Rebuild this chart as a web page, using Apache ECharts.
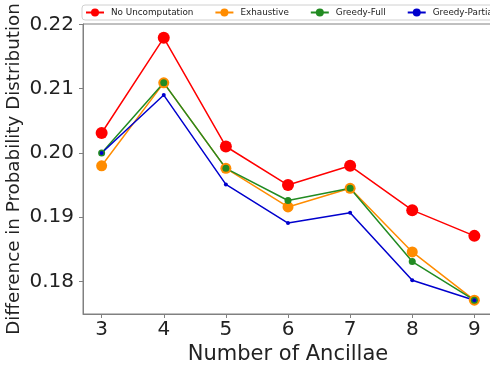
<!DOCTYPE html>
<html>
<head>
<meta charset="utf-8">
<script src="https://cdn.jsdelivr.net/npm/echarts@6/dist/echarts.min.js"></script>
<style>
html,body{margin:0;padding:0;background:#fff;}
#c{width:490px;height:367px;}
</style>
</head>
<body>
<div id="c"></div>
<script>
var ancillae = [3, 4, 5, 6, 7, 8, 9];
var noUncomputation = [0.2031, 0.2179, 0.2010, 0.1950, 0.1980, 0.1911, 0.1871];
var exhaustive      = [0.1980, 0.2109, 0.1976, 0.1916, 0.1945, 0.1846, 0.1771];
var greedyFull      = [0.2000, 0.2109, 0.1976, 0.1926, 0.1945, 0.1831, 0.1771];
var greedyPartial   = [0.2000, 0.2090, 0.1951, 0.1891, 0.1907, 0.1802, 0.1771];
var xTicks = [3, 4, 5, 6, 7, 8, 9];
var yTicks = [0.18, 0.19, 0.20, 0.21, 0.22];
var yTickLabels = ['0.18', '0.19', '0.20', '0.21', '0.22'];

function pairs(ys){ return ancillae.map(function(x,i){ return [x, ys[i]]; }); }

var FONT = 'DejaVu Sans';
var chart = echarts.init(document.getElementById('c'), null, {renderer:'canvas'});
function mk(name, data, color, size){
  return {
    name: name, type: 'line', data: pairs(data),
    symbol: 'circle', symbolSize: size, showSymbol: true,
    lineStyle: {color: color, width: 1.5},
    itemStyle: {color: color},
    emphasis: {disabled: true},
    animation: false
  };
}
chart.setOption({
  animation: false,
  grid: {left: 83, top: 24, right: -3, bottom: 53, show: true, borderColor: '#808080', borderWidth: 1,
         containLabel: false, outerBoundsMode: 'none'},
  legend: {
    left: 82, top: 5, width: 600,
    padding: [3, 4, 3, 3],
    itemGap: 21, itemWidth: 18, itemHeight: 10,
    borderColor: '#d0d0d0', borderWidth: 1, borderRadius: 3,
    backgroundColor: '#fff',
    textStyle: {fontFamily: FONT, fontSize: 8.8, color: '#222', padding: [0, 0, 0, 2]},
    data: ['No Uncomputation', 'Exhaustive', 'Greedy-Full', 'Greedy-Partial']
  },
  xAxis: {
    type: 'value', min: 2.7, max: 9.3,
    name: 'Number of Ancillae', nameLocation: 'middle', nameGap: 30, nameMoveOverlap: false,
    nameTextStyle: {fontFamily: FONT, fontSize: 21, color: '#222'},
    axisLine: {show: true, lineStyle: {color: '#808080', width: 1}},
    axisTick: {show: true, inside: false, length: 4, customValues: xTicks, lineStyle: {color: '#808080'}},
    axisLabel: {customValues: xTicks, fontFamily: FONT, fontSize: 20, color: '#222', margin: 6},
    splitLine: {show: false}
  },
  yAxis: {
    type: 'value', min: 0.17495, max: 0.22005,
    name: 'Difference in Probability Distribution', nameLocation: 'middle', nameGap: 60, nameMoveOverlap: false,
    nameTextStyle: {fontFamily: FONT, fontSize: 18.3, color: '#222'},
    axisLine: {show: true, lineStyle: {color: '#808080', width: 1}},
    axisTick: {show: true, inside: false, length: 4, customValues: yTicks, lineStyle: {color: '#808080'}},
    axisLabel: {customValues: yTicks, fontFamily: FONT, fontSize: 20, color: '#222', margin: 9,
      formatter: function(v){ var i = yTicks.findIndex(function(t){return Math.abs(t-v)<1e-9;}); return i>=0 ? yTickLabels[i] : ''; }},
    splitLine: {show: false}
  },
  series: [
    mk('No Uncomputation', noUncomputation, '#ff0000', 12),
    mk('Exhaustive', exhaustive, '#ff8c00', 11),
    mk('Greedy-Full', greedyFull, '#228b22', 7),
    mk('Greedy-Partial', greedyPartial, '#0000cd', 4)
  ]
});
</script>
</body>
</html>
